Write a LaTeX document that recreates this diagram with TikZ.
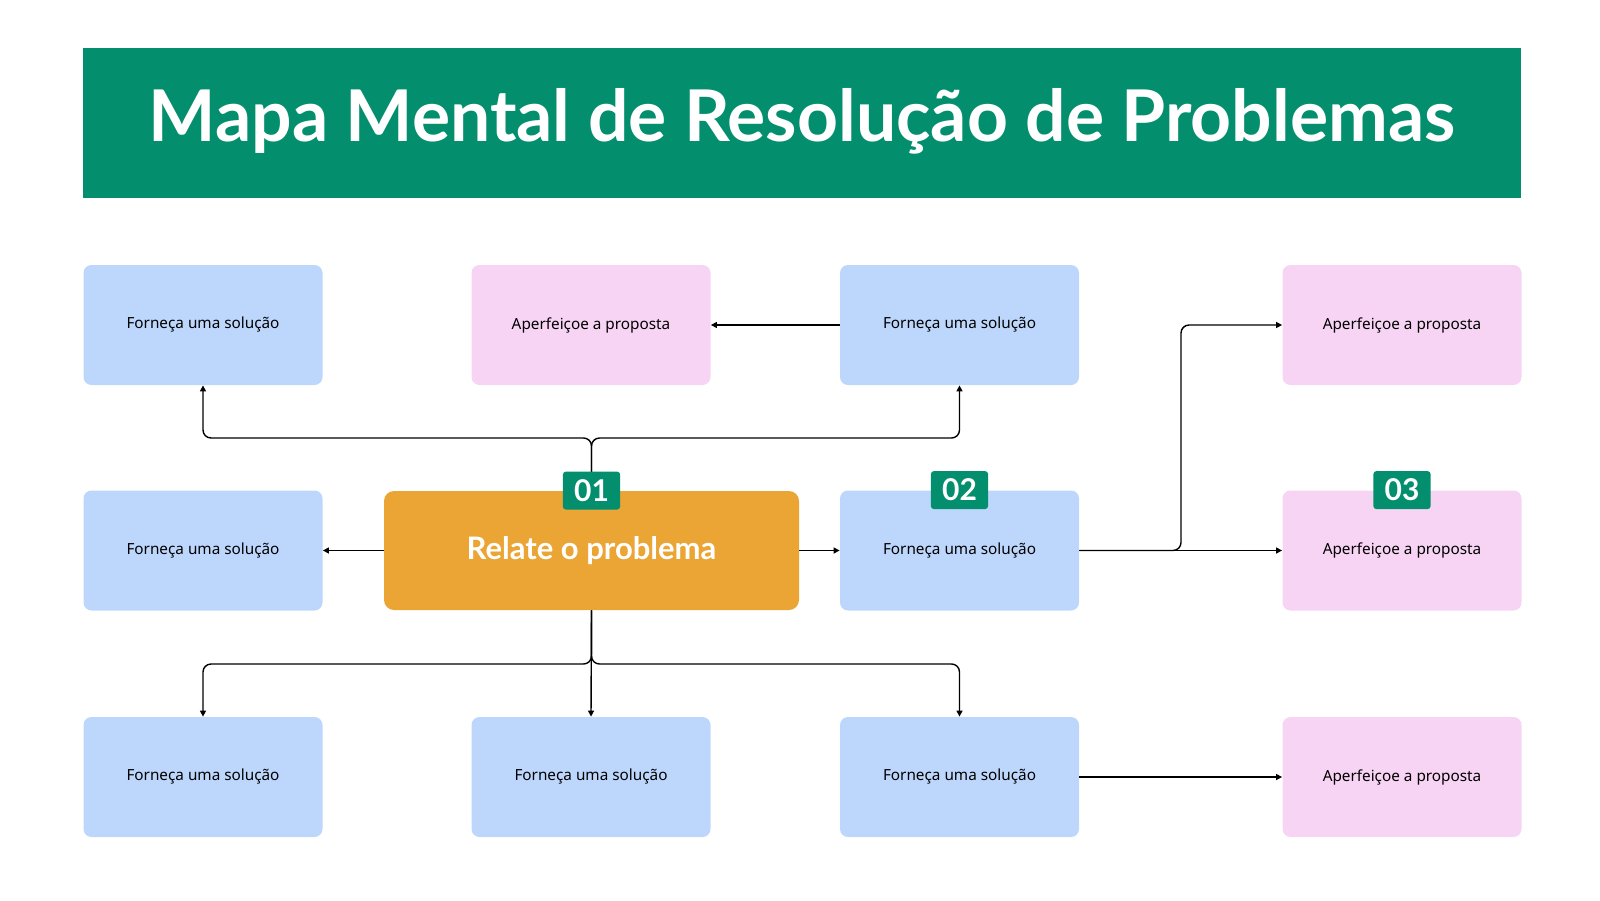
\documentclass[tikz,border=0pt]{standalone}
\usepackage{fontspec}
\setmainfont{Noto Sans}
\newfontfamily\titlefont{Lato}
\usetikzlibrary{arrows.meta,positioning}
\definecolor{verde}{HTML}{038F6D}
\definecolor{laranja}{HTML}{EBA535}
\definecolor{azul}{HTML}{BDD7FC}
\definecolor{rosa}{HTML}{F7D4F4}
\tikzset{
  caixa/.style={rounded corners=4pt,minimum width=119.5pt,minimum height=60pt,
    inner sep=0pt,font=\fontsize{7.65}{9}\selectfont},
  sol/.style={caixa,fill=azul},
  prop/.style={caixa,fill=rosa},
  numero/.style={fill=verde,rounded corners=1.5pt,inner xsep=5.6pt,
    minimum height=19pt,inner ysep=0pt,text=white,
    font=\titlefont\bfseries\fontsize{15}{15}\selectfont},
  liga/.style={line width=0.7pt,rounded corners=4pt,
    -{Triangle[length=3pt,width=3pt]}}
}
\begin{document}
\begin{tikzpicture}[x=0.5pt,y=-0.5pt]
\useasboundingbox (0,0) rectangle (1600,900);
\fill[color=verde] (83,48) rectangle (1521,198);
\node[text=white,font=\titlefont\bfseries\fontsize{35.7}{36}\selectfont] (titulo) at (802,121) {Mapa Mental de Resolução de Problemas};

% linha de cima
\node[sol] (s11) at (203,325) {Forneça uma solução};
\node[prop] (p12) at (591,325) {Aperfeiçoe a proposta};
\node[sol] (s13) at (959.5,325) {Forneça uma solução};
\node[prop] (p14) at (1402,325) {Aperfeiçoe a proposta};

% linha do meio
\node[sol] (s21) at (203,550.5) {Forneça uma solução};
\node[fill=laranja,rounded corners=5pt,minimum width=207.5pt,minimum height=59.5pt,
  text=white,font=\titlefont\bfseries\fontsize{15.5}{16}\selectfont] (relato) at (591.5,550.5) {Relate o problema};
\node[sol] (s23) at (959.5,550.5) {Forneça uma solução};
\node[prop] (p24) at (1402,550.5) {Aperfeiçoe a proposta};

% linha de baixo
\node[sol] (s31) at (203,777) {Forneça uma solução};
\node[sol] (s32) at (591,777) {Forneça uma solução};
\node[sol] (s33) at (959.5,777) {Forneça uma solução};
\node[prop] (p34) at (1402,777) {Aperfeiçoe a proposta};

\coordinate (cima) at (591.5,438);
\coordinate (baixo) at (591.5,664);
\coordinate (desvio) at (1181,550.5);

\draw[liga] (relato.north) -- (cima) -| (s11.south);
\draw[liga] (relato.north) -- (cima) -| (s13.south);
\draw[liga] (relato.south) -- (baixo) -| (s31.north);
\draw[liga] (relato.south) -- (s32.north);
\draw[liga] (relato.south) -- (baixo) -| (s33.north);
\draw[liga] (s13.west) -- (p12.east);
\draw[liga] (relato.west) -- (s21.east);
\draw[liga] (relato.east) -- (s23.west);
\draw[liga] (s23.east) -- (p24.west);
\draw[liga] (s23.east) -- (desvio) |- (p14.west);
\draw[liga] (s33.east) -- (p34.west);

\node[numero] (n1) at (relato.north) {01};
\node[numero] (n2) at (s23.north) {02};
\node[numero] (n3) at (p24.north) {03};
\end{tikzpicture}
\end{document}
